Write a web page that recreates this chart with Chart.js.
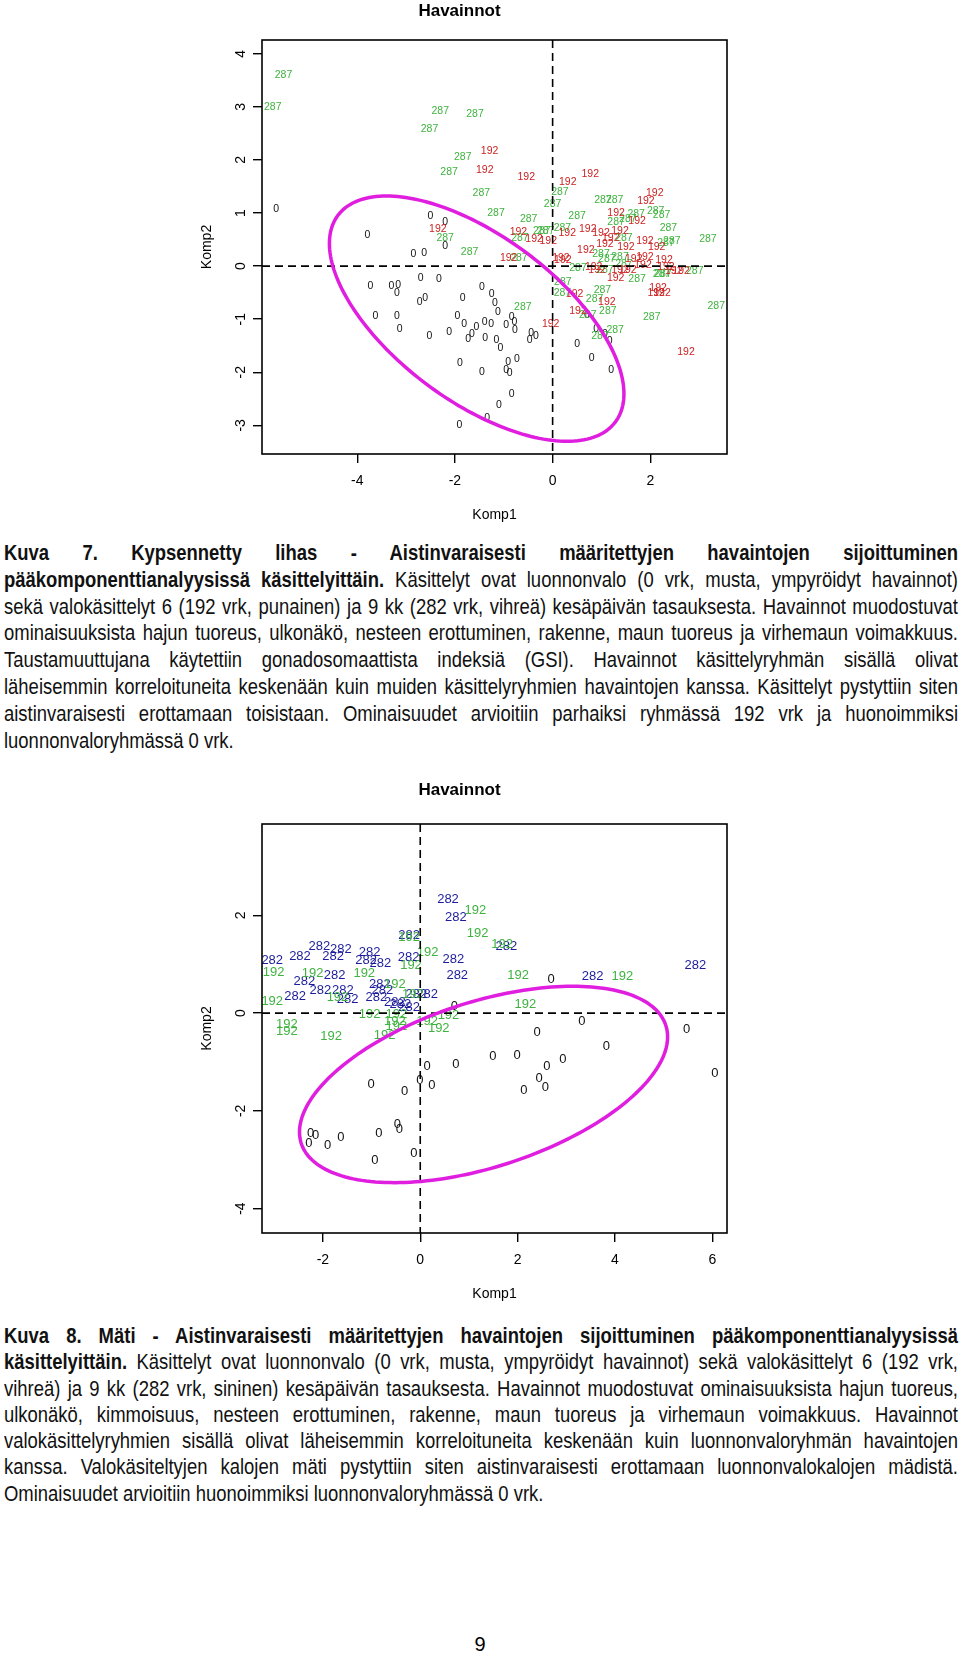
<!DOCTYPE html>
<html>
<head>
<meta charset="utf-8">
<script src="https://cdn.jsdelivr.net/npm/chart.js@4.4.1/dist/chart.umd.min.js"></script>
<style>
  body { margin: 0; background: #fff; width: 960px; height: 1656px; position: relative; overflow: hidden; }
  canvas { position: absolute; }
  .cap { position: absolute; left: 4px; width: 954px; font-family: "Liberation Sans", Arial, sans-serif; font-size: 22.5px; color: #111; }
  .cap div { white-space: nowrap; line-height: 26.8px; height: 26.8px; }
  .cap2 div { line-height: 26.3px; height: 26.3px; }
  .cap span { display: inline-block; transform-origin: 0 50%; }
  #page { position: absolute; left: 470px; top: 1633px; width: 20px; text-align: center; font: 20px "Liberation Sans", sans-serif; }
</style>
</head>
<body>
<canvas id="c1" width="931" height="530" style="left:29px;top:0px"></canvas>
<canvas id="c2" width="931" height="530" style="left:29px;top:779px"></canvas>

<div class="cap" style="top:540px">
  <div class="jl"><span><b>Kuva 7. Kypsennetty lihas - Aistinvaraisesti määritettyjen havaintojen sijoittuminen</b></span></div>
  <div class="jl"><span><b>pääkomponenttianalyysissä käsittelyittäin.</b> Käsittelyt ovat luonnonvalo (0 vrk, musta, ympyröidyt havainnot)</span></div>
  <div class="jl"><span>sekä valokäsittelyt 6 (192 vrk, punainen) ja 9 kk (282 vrk, vihreä) kesäpäivän tasauksesta. Havainnot muodostuvat</span></div>
  <div class="jl"><span>ominaisuuksista hajun tuoreus, ulkonäkö, nesteen erottuminen, rakenne, maun tuoreus ja virhemaun voimakkuus.</span></div>
  <div class="jl"><span>Taustamuuttujana käytettiin gonadosomaattista indeksiä (GSI). Havainnot käsittelyryhmän sisällä olivat</span></div>
  <div class="jl"><span>läheisemmin korreloituneita keskenään kuin muiden käsittelyryhmien havaintojen kanssa. Käsittelyt pystyttiin siten</span></div>
  <div class="jl"><span>aistinvaraisesti erottamaan toisistaan. Ominaisuudet arvioitiin parhaiksi ryhmässä 192 vrk ja huonoimmiksi</span></div>
  <div><span>luonnonvaloryhmässä 0 vrk.</span></div>
</div>

<div class="cap cap2" style="top:1323px">
  <div class="jl"><span><b>Kuva 8. Mäti - Aistinvaraisesti määritettyjen havaintojen sijoittuminen pääkomponenttianalyysissä</b></span></div>
  <div class="jl"><span><b>käsittelyittäin.</b> Käsittelyt ovat luonnonvalo (0 vrk, musta, ympyröidyt havainnot) sekä valokäsittelyt 6 (192 vrk,</span></div>
  <div class="jl"><span>vihreä) ja 9 kk (282 vrk, sininen) kesäpäivän tasauksesta. Havainnot muodostuvat ominaisuuksista hajun tuoreus,</span></div>
  <div class="jl"><span>ulkonäkö, kimmoisuus, nesteen erottuminen, rakenne, maun tuoreus ja virhemaun voimakkuus. Havainnot</span></div>
  <div class="jl"><span>valokäsittelyryhmien sisällä olivat läheisemmin korreloituneita keskenään kuin luonnonvaloryhmän havaintojen</span></div>
  <div class="jl"><span>kanssa. Valokäsiteltyjen kalojen mäti pystyttiin siten aistinvaraisesti erottamaan luonnonvalokalojen mädistä.</span></div>
  <div><span>Ominaisuudet arvioitiin huonoimmiksi luonnonvaloryhmässä 0 vrk.</span></div>
</div>

<div id="page">9</div>

<script>
// Kuva 7 - kypsennetty lihas, [Komp1, Komp2]
const lihas0 = [[-5.66,1.08],[-3.79,0.59],[-2.50,0.94],[-2.20,0.83],[-2.20,0.37],[-2.85,0.22],[-2.63,0.25],
  [-3.73,-0.38],[-3.30,-0.38],[-3.16,-0.35],[-3.19,-0.50],[-2.70,-0.23],[-2.33,-0.25],[-2.72,-0.67],[-2.61,-0.60],
  [-3.63,-0.95],[-3.19,-0.94],[-3.13,-1.18],[-2.52,-1.31],[-1.84,-0.60],[-1.45,-0.40],[-1.25,-0.52],[-1.18,-0.69],
  [-1.12,-0.86],[-1.95,-0.94],[-1.81,-1.10],[-1.56,-1.14],[-1.39,-1.06],[-1.26,-1.09],[-0.95,-1.11],[-0.84,-0.96],
  [-0.78,-1.05],[-0.77,-1.20],[-2.12,-1.24],[-1.73,-1.37],[-1.65,-1.28],[-1.38,-1.35],[-1.15,-1.40],[-1.07,-1.55],
  [-0.44,-1.26],[-0.34,-1.31],[-0.47,-1.39],[-1.90,-1.82],[-1.45,-2.00],[-0.95,-1.96],[-0.88,-2.01],[-0.91,-1.80],
  [-0.73,-1.75],[-0.84,-2.42],[-1.10,-2.62],[-1.34,-2.87],[-1.91,-2.99],[0.50,-1.47],[0.80,-1.73],[1.20,-1.96],
  [0.89,-1.19],[1.07,-1.28],[1.17,-1.41],[0.70,-0.92]];
const lihas192 = [[-1.29,2.16],[-1.39,1.80],[-0.54,1.68],[0.31,1.58],[0.77,1.74],[2.09,1.38],[1.91,1.22],
  [-2.35,0.70],[-0.70,0.64],[-0.38,0.51],[-0.09,0.47],[0.30,0.62],[0.72,0.70],[0.99,0.63],[1.30,0.99],[1.73,0.84],
  [1.38,0.66],[1.19,0.52],[1.89,0.48],[2.13,0.35],[1.50,0.35],[0.68,0.30],[-0.90,0.16],[0.17,0.16],[0.21,0.12],
  [1.66,0.13],[1.89,0.17],[2.28,0.12],[2.32,-0.02],[2.48,-0.09],[2.63,-0.10],[0.84,-0.02],[0.91,-0.07],[1.38,-0.07],
  [1.54,-0.08],[1.85,0.01],[1.29,-0.23],[0.45,-0.52],[1.11,-0.68],[0.52,-0.84],[-0.04,-1.10],[2.16,-0.42],
  [2.24,-0.51],[2.12,-0.51],[2.73,-1.62],[1.07,0.42]];
const lihas287 = [[-5.51,3.60],[-5.73,2.99],[-2.30,2.92],[-1.59,2.87],[-2.52,2.58],[-1.84,2.05],[-2.12,1.77],
  [-1.46,1.38],[-1.16,0.99],[-0.49,0.89],[-2.20,0.53],[-1.70,0.26],[-0.69,0.16],[-0.61,-0.78],[0.15,1.40],
  [0.00,1.17],[0.50,0.94],[0.20,0.71],[-0.22,0.65],[-0.14,0.65],[-0.67,0.52],[1.03,1.24],[1.27,1.25],[1.71,0.98],
  [1.30,0.83],[1.54,0.89],[2.11,1.04],[2.23,0.97],[2.37,0.71],[3.18,0.51],[2.44,0.47],[2.32,0.43],[1.46,0.53],
  [0.52,-0.03],[0.99,0.23],[1.11,0.14],[1.07,-0.08],[1.73,-0.25],[2.23,-0.16],[2.26,-0.16],[2.91,-0.09],
  [0.21,-0.30],[0.20,-0.51],[1.02,-0.45],[0.86,-0.63],[1.13,-0.84],[0.72,-0.92],[2.03,-0.97],[3.35,-0.76],
  [1.28,-1.21],[0.97,-1.31],[1.38,0.17],[1.46,0.04]];
const lihasXTicks = [-4, -2, 0, 2];
const lihasYTicks = [-3, -2, -1, 0, 1, 2, 3, 4];
// ellipse: centre, then x = cx + ax*cos t, y = cy + ay*cos t + by*sin t
const lihasEllipse = [-1.555, -0.99, 3.015, -1.416, 1.826];

// Kuva 8 - mäti
const mati0 = [[2.69,0.69],[0.70,0.13],[3.32,-0.18],[2.40,-0.40],[5.47,-0.34],[3.82,-0.68],[1.49,-0.89],
  [1.99,-0.87],[0.73,-1.04],[2.93,-0.95],[2.60,-1.10],[6.05,-1.23],[0.14,-1.10],[2.44,-1.34],[2.57,-1.52],
  [2.13,-1.58],[-1.01,-1.45],[-0.32,-1.60],[-0.01,-1.37],[0.24,-1.49],[-0.47,-2.27],[-0.43,-2.38],[-0.85,-2.46],
  [-1.63,-2.55],[-2.25,-2.46],[-2.15,-2.51],[-2.29,-2.67],[-1.90,-2.71],[-0.93,-3.02],[-0.13,-2.87]];
const mati192 = [[1.13,2.11],[1.18,1.64],[1.68,1.41],[-0.23,1.55],[0.15,1.24],[-0.19,0.97],[-3.01,0.83],
  [-2.21,0.81],[-1.15,0.81],[2.01,0.78],[4.15,0.75],[-0.52,0.58],[-3.04,0.24],[-1.70,0.33],[2.16,0.18],
  [-1.04,-0.02],[-0.49,-0.02],[-0.52,-0.16],[-0.49,-0.27],[0.14,-0.16],[0.58,-0.05],[0.38,-0.31],[-2.74,-0.23],
  [-2.74,-0.38],[-1.83,-0.48],[-0.73,-0.45],[-0.15,0.39]];
const mati282 = [[0.57,2.33],[0.73,1.95],[-0.23,1.60],[1.77,1.37],[-3.04,1.07],[-2.47,1.17],[-2.07,1.36],
  [-1.63,1.31],[-1.79,1.17],[-1.04,1.24],[-1.11,1.07],[-0.82,1.02],[-0.24,1.13],[0.68,1.09],[-1.76,0.78],
  [-2.38,0.65],[-2.57,0.35],[-2.05,0.46],[-1.59,0.47],[-1.49,0.29],[-0.83,0.58],[-0.90,0.33],[-0.78,0.46],
  [-0.52,0.22],[-0.41,0.18],[-0.23,0.12],[0.14,0.39],[-0.08,0.39],[0.76,0.78],[3.54,0.75],[5.65,0.97]];
const matiXTicks = [-2, 0, 2, 4, 6];
const matiYTicks = [-4, -2, 0, 2];
const matiEllipse = [1.30, -1.46, 3.78, 0.974, 1.758];

const FONT = '"Liberation Sans", Arial, sans-serif';

const rPlot = {
  id: 'rPlot',
  afterDatasetsDraw(chart) {
    const ctx = chart.ctx;
    const a = chart.chartArea;
    const sx = chart.scales.x, sy = chart.scales.y;
    const o = chart.options.plugins.rPlot;
    ctx.save();
    ctx.textAlign = 'center';
    ctx.textBaseline = 'middle';
    chart.data.datasets.forEach((ds, i) => {
      ctx.fillStyle = ds.textColor;
      ctx.font = o.labelSize + 'px ' + FONT;
      chart.getDatasetMeta(i).data.forEach(el => ctx.fillText(ds.labelText, el.x, el.y));
    });
    // zero lines
    ctx.strokeStyle = '#000';
    ctx.lineWidth = 1.6;
    ctx.setLineDash([8, 5]);
    ctx.beginPath();
    ctx.moveTo(a.left, sy.getPixelForValue(0));
    ctx.lineTo(a.right, sy.getPixelForValue(0));
    ctx.moveTo(sx.getPixelForValue(0), a.top);
    ctx.lineTo(sx.getPixelForValue(0), a.bottom);
    ctx.stroke();
    ctx.setLineDash([]);
    // ellipse
    const [cx, cy, ax, ay, by] = o.ellipse;
    ctx.strokeStyle = '#e01ee0';
    ctx.lineWidth = 3.5;
    ctx.beginPath();
    for (let k = 0; k <= 200; k++) {
      const t = k / 200 * Math.PI * 2;
      const px = sx.getPixelForValue(cx + ax * Math.cos(t));
      const py = sy.getPixelForValue(cy + ay * Math.cos(t) + by * Math.sin(t));
      if (k === 0) ctx.moveTo(px, py); else ctx.lineTo(px, py);
    }
    ctx.closePath();
    ctx.stroke();
    // box
    ctx.strokeStyle = '#000';
    ctx.lineWidth = 1.6;
    ctx.strokeRect(a.left, a.top, a.right - a.left, a.bottom - a.top);
    // rotated y tick labels
    ctx.fillStyle = '#000';
    ctx.font = '14px ' + FONT;
    sy.ticks.forEach(tk => {
      ctx.save();
      ctx.translate(a.left - 21, sy.getPixelForValue(tk.value));
      ctx.rotate(-Math.PI / 2);
      ctx.fillText(String(tk.value), 0, 0);
      ctx.restore();
    });
    ctx.restore();
  }
};

function setTicks(list) {
  return s => { s.ticks = list.map(v => ({ value: v })); };
}

function makeChart(id, sets, xr, yr, xt, yt, ell, labelSize, titlePad) {
  new Chart(document.getElementById(id), {
    type: 'scatter',
    data: {
      datasets: sets.map(s => ({
        data: s[0].map(p => ({ x: p[0], y: p[1] })),
        labelText: s[1], textColor: s[2],
        pointRadius: 0, pointHoverRadius: 0
      }))
    },
    options: {
      responsive: false,
      animation: false,
      events: [],
      layout: { padding: { left: 163, right: 233, top: 0, bottom: 0 } },
      plugins: {
        legend: { display: false },
        tooltip: { enabled: false },
        title: { display: true, text: 'Havainnot', color: '#000',
                 font: { size: 17, weight: 'bold', family: FONT }, padding: { top: 1, bottom: titlePad } },
        rPlot: { ellipse: ell, labelSize: labelSize }
      },
      scales: {
        x: {
          type: 'linear', min: xr[0], max: xr[1],
          afterBuildTicks: setTicks(xt),
          afterFit: s => { s.height = 76; },
          grid: { drawOnChartArea: false, drawTicks: true, tickLength: 9, color: '#000', lineWidth: 1.4 },
          border: { display: false },
          ticks: { color: '#000', font: { size: 14, family: FONT }, padding: 9.6, maxRotation: 0 },
          title: { display: true, text: 'Komp1', color: '#000', font: { size: 14, family: FONT }, padding: 6.6 }
        },
        y: {
          type: 'linear', min: yr[0], max: yr[1],
          afterBuildTicks: setTicks(yt),
          afterFit: s => { s.width = 70; },
          grid: { drawOnChartArea: false, drawTicks: true, tickLength: 9, color: '#000', lineWidth: 1.4 },
          border: { display: false },
          ticks: { display: false },
          title: { display: true, text: 'Komp2', color: '#000', font: { size: 14, family: FONT }, padding: 6.6 }
        }
      }
    },
    plugins: [rPlot]
  });
}

makeChart('c1', [[lihas0, '0', '#111'], [lihas287, '287', '#3fb33f'], [lihas192, '192', '#cc2222']],
  [-5.95, 3.57], [-3.54, 4.26], lihasXTicks, lihasYTicks, lihasEllipse, 10.5, 18.6);
makeChart('c2', [[mati0, '0', '#111'], [mati282, '282', '#1c1c9c'], [mati192, '192', '#3fb33f']],
  [-3.25, 6.3], [-4.5, 3.87], matiXTicks, matiYTicks, matiEllipse, 13, 23.6);

// caption lines: narrow look (horizontal condensing) and full-width justification
const NARROW = 0.82;
document.querySelectorAll('.cap div').forEach(div => {
  const span = div.firstElementChild;
  const target = div.clientWidth / NARROW;
  const w = span.getBoundingClientRect().width;
  let k = NARROW;
  if (div.classList.contains('jl')) {
    const spaces = (span.textContent.trim().match(/ +/g) || []).length;
    if (w < target && spaces) span.style.wordSpacing = ((target - w) / spaces) + 'px';
    else if (w > target) k = NARROW * target / w;
  }
  span.style.transform = 'scaleX(' + k + ')';
});
</script>
</body>
</html>
